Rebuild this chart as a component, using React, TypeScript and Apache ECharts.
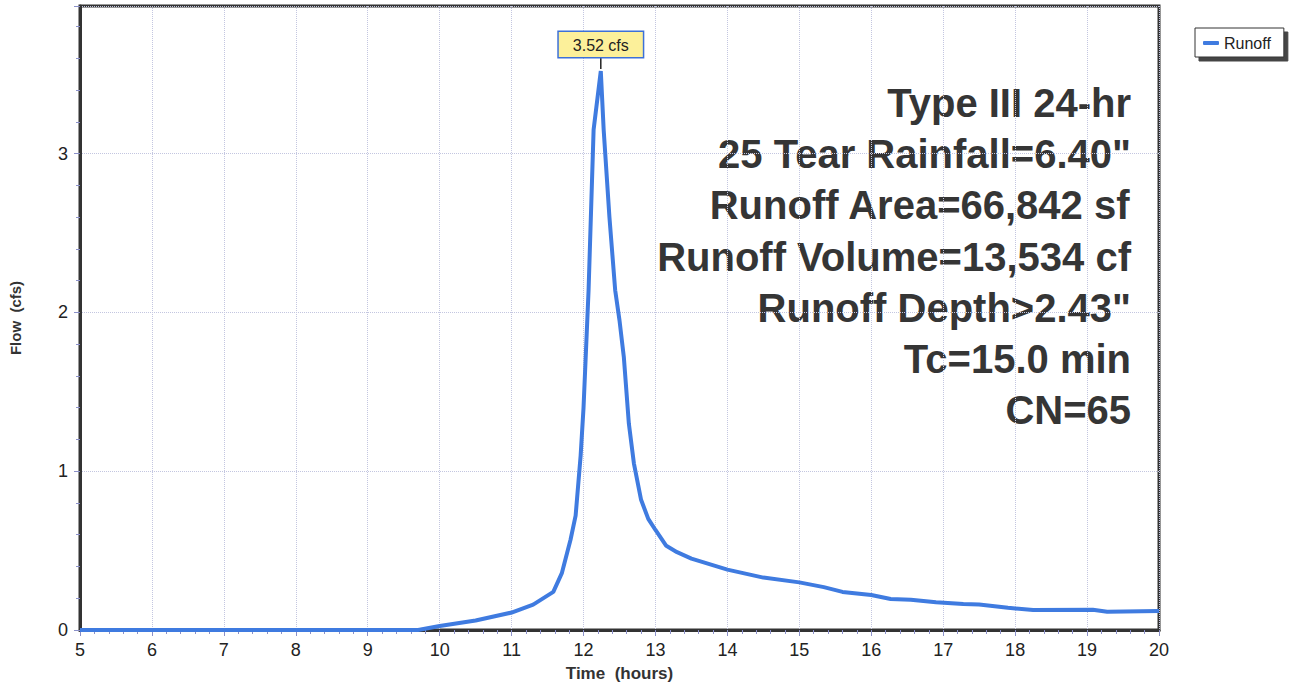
import React, { useEffect, useRef } from "react";
import * as echarts from "echarts";

const times = [5, 9.7, 10.0, 10.5, 11.0, 11.3, 11.58, 11.7, 11.82, 11.89, 11.96, 12.0, 12.07, 12.14, 12.24, 12.28, 12.36, 12.44, 12.5, 12.56, 12.63, 12.7, 12.8, 12.9, 13.0, 13.15, 13.3, 13.5, 14.0, 14.5, 15.0, 15.34, 15.6, 16.0, 16.27, 16.55, 16.9, 17.28, 17.5, 17.9, 18.25, 19.08, 19.28, 20.0];
const flows = [0, 0, 0.025, 0.06, 0.11, 0.16, 0.24, 0.36, 0.57, 0.72, 1.1, 1.4, 2.14, 3.15, 3.52, 3.15, 2.6, 2.14, 1.95, 1.72, 1.3, 1.05, 0.82, 0.7, 0.63, 0.53, 0.49, 0.45, 0.38, 0.33, 0.3, 0.27, 0.24, 0.22, 0.195, 0.19, 0.175, 0.163, 0.16, 0.14, 0.126, 0.128, 0.115, 0.12];
const peakTime = 12.24;
const peakFlow = 3.52;
const peakLabel = "3.52 cfs";
const infoLines = [
  "Type III 24-hr",
  "25 Tear Rainfall=6.40\"",
  "Runoff Area=66,842 sf",
  "Runoff Volume=13,534 cf",
  "Runoff Depth>2.43\"",
  "Tc=15.0 min",
  "CN=65",
];
const seriesName = "Runoff";
const FONT = "'Liberation Sans', Arial, sans-serif";

export default function App() {
  const ref = useRef<HTMLDivElement>(null);
  useEffect(() => {
    if (!ref.current) return;
    const chart = echarts.init(ref.current, null, { renderer: "svg" });
    const data = times.map((t, i) => [t, flows[i]]);
    const tickColor = "#8a90c8";
    chart.setOption({
      animation: false,
      backgroundColor: "#ffffff",
      textStyle: { fontFamily: FONT },
      grid: {
        left: 79,
        right: 137,
        top: 6,
        bottom: 56,
        show: true,
        borderColor: "#333",
        borderWidth: 3,
        backgroundColor: "transparent",
      },
      legend: {
        data: [seriesName],
        left: 1195,
        top: 28,
        padding: [7, 13, 6, 8],
        itemWidth: 16,
        itemHeight: 4,
        itemGap: 5,
        icon: "roundRect",
        backgroundColor: "#fff",
        borderColor: "#333",
        borderWidth: 1,
        shadowColor: "#444",
        shadowBlur: 0,
        shadowOffsetX: 4,
        shadowOffsetY: 4,
        textStyle: { fontSize: 16, color: "#222", fontFamily: FONT },
      },
      xAxis: {
        type: "value",
        min: 5,
        max: 20,
        interval: 1,
        name: "Time  (hours)",
        nameLocation: "middle",
        nameGap: 35,
        nameTextStyle: { fontSize: 17, fontWeight: "bold", color: "#333", fontFamily: FONT },
        axisLine: { show: true, onZero: false, lineStyle: { color: "#333", width: 3 } },
        axisTick: { show: true, length: 6, lineStyle: { color: tickColor } },
        minorTick: { show: true, splitNumber: 5, length: 4, lineStyle: { color: tickColor } },
        axisLabel: { fontSize: 18, color: "#222", margin: 11, fontFamily: FONT },
        splitLine: { show: true, lineStyle: { type: "dotted", color: "#c3c6e0", width: 1 } },
      },
      yAxis: {
        type: "value",
        min: 0,
        max: 3.93,
        interval: 1,
        name: "Flow  (cfs)",
        nameLocation: "middle",
        nameGap: 57,
        nameTextStyle: { fontSize: 15, fontWeight: "bold", color: "#333", fontFamily: FONT },
        axisLine: { show: true, lineStyle: { color: "#333", width: 3 } },
        axisTick: { show: true, length: 6, lineStyle: { color: tickColor } },
        minorTick: { show: true, splitNumber: 5, length: 4, lineStyle: { color: tickColor } },
        axisLabel: { fontSize: 18, color: "#222", margin: 12, showMaxLabel: false, fontFamily: FONT },
        splitLine: { show: true, lineStyle: { type: "dotted", color: "#c3c6e0", width: 1 } },
      },
      series: [
        {
          name: seriesName,
          type: "line",
          data,
          showSymbol: false,
          smooth: false,
          lineStyle: { color: "#3f7be0", width: 4 },
          itemStyle: { color: "#3f7be0" },
          markPoint: {
            symbol: "rect",
            symbolSize: [1.5, 12],
            symbolOffset: [0, -8],
            itemStyle: { color: "#222" },
            label: {
              show: true,
              position: "top",
              distance: 0,
              formatter: peakLabel,
              fontSize: 16,
              fontFamily: FONT,
              color: "#222",
              backgroundColor: "#fcf09a",
              borderColor: "#3c70d8",
              borderWidth: 1.5,
              padding: [5, 14, 4, 14],
            },
            data: [{ coord: [peakTime, peakFlow] }],
          },
        },
      ],
      graphic: infoLines.map((line, i) => ({
        type: "text",
        right: 1296 - 1131,
        top: 83 + i * 51.2,
        style: {
          text: line,
          fontSize: 40,
          fontWeight: "bold",
          fontFamily: FONT,
          fill: "#353535",
        },
      })),
    });
    return () => chart.dispose();
  }, []);
  return <div ref={ref} style={{ width: 1296, height: 687, position: "absolute", left: 0, top: 0 }} />;
}
